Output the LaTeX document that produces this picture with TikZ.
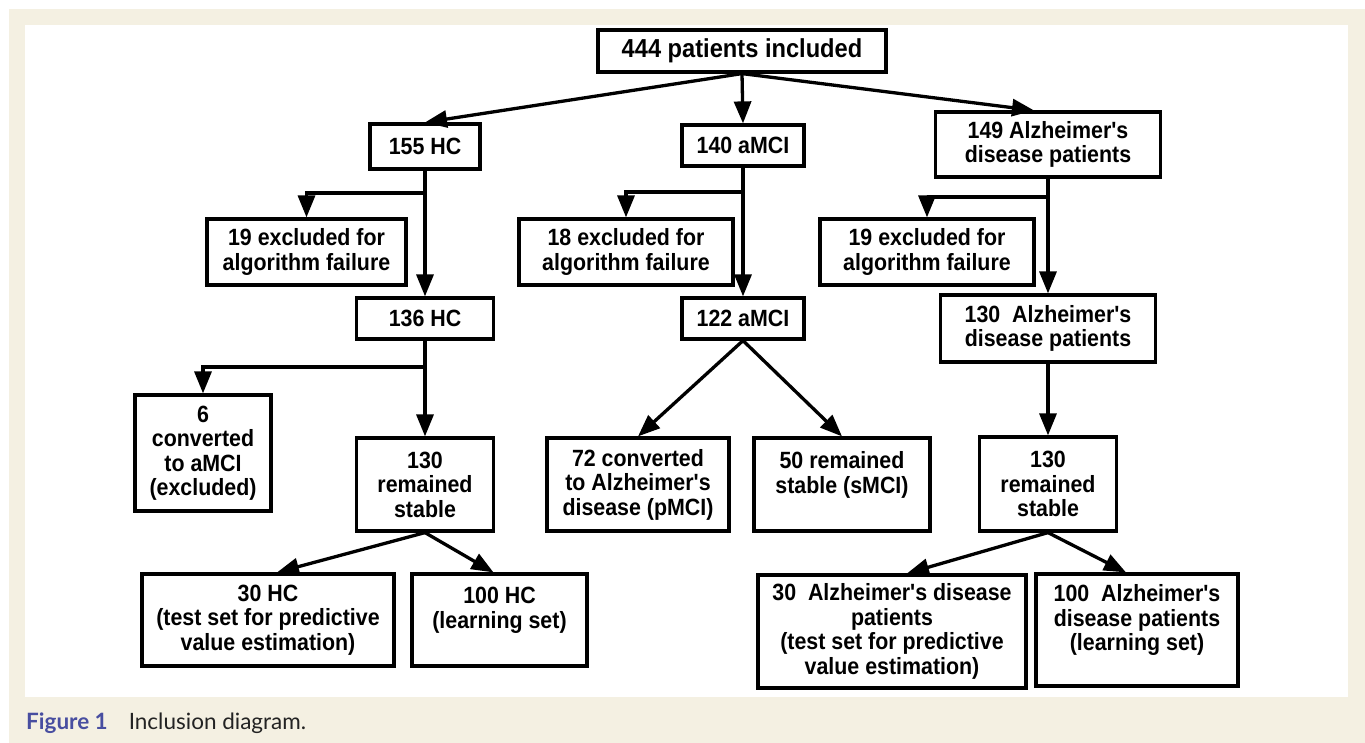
\documentclass[tikz,border=0pt]{standalone}
\usepackage{fontspec}
\newfontfamily\boxfont{Liberation Sans}[FakeStretch=0.91]
\newfontfamily\capfont{Lato}
\usetikzlibrary{arrows.meta}
\definecolor{bg}{RGB}{244,240,226}
\definecolor{capblue}{RGB}{72,78,160}
\definecolor{captext}{RGB}{35,35,35}
\begin{document}
\begin{tikzpicture}[x=1pt,y=-1pt,
  box/.style={draw, line width=3.2pt, fill=white, align=center, inner sep=0pt,
    font=\boxfont\bfseries\fontsize{23.5}{24.5}\selectfont},
  arr/.style={line width=3.3pt, -{Triangle[length=22pt,width=17pt]}}]
% background
\fill[white] (0,0) rectangle (1365,743);
\fill[bg] (9,9) rectangle (1365,743);
\fill[white] (25,25) rectangle (1348,697);
\useasboundingbox (0,0) rectangle (1365,743);
% nodes
\node[box, minimum width=288, minimum height=42,
  font=\boxfont\bfseries\fontsize{26}{28}\selectfont] (top) at (742,51) {444 patients included};
\node[box, minimum width=110, minimum height=45] (hc1) at (425,146.5) {155 HC};
\node[box, minimum width=122, minimum height=41] (mci1) at (743,145.5) {140 aMCI};
\node[box, minimum width=225, minimum height=65] (ad1) at (1048,144.5) {149 Alzheimer's\\disease patients};
\node[box, minimum width=199, minimum height=66] (hcx) at (306.5,252) {19 excluded for\\algorithm failure};
\node[box, minimum width=214, minimum height=66] (mcix) at (626,252) {18 excluded for\\algorithm failure};
\node[box, minimum width=214, minimum height=66] (adx) at (927,252) {19 excluded for\\algorithm failure};
\node[box, minimum width=137, minimum height=41] (hc2) at (425,318.5) {136 HC};
\node[box, minimum width=122, minimum height=41] (mci2) at (743,318.5) {122 aMCI};
\node[box, minimum width=215, minimum height=67] (ad2) at (1048,328.5) {130\ \ Alzheimer's\\disease patients};
\node[box, minimum width=136, minimum height=116] (hcconv) at (203,453) {6\\converted\\to aMCI\\(excluded)};
\node[box, minimum width=137, minimum height=93] (hc3) at (425,484.5) {130\\remained\\stable};
\node[box, minimum width=182, minimum height=93] (mciconv) at (638,484.5) {72 converted\\to Alzheimer's\\disease (pMCI)};
\node[box, minimum width=176, minimum height=93] (mcist) at (842,484.5) {50 remained\\stable (sMCI)\\\mbox{}};
\node[box, minimum width=137, minimum height=94] (ad3) at (1048,484) {130\\remained\\stable};
\node[box, minimum width=252, minimum height=92] (hc30) at (268,620) {30 HC\\(test set for predictive\\value estimation)};
\node[box, minimum width=175, minimum height=92] (hc100) at (499.5,620) {100 HC\\(learning set)\\\mbox{}};
\node[box, minimum width=268, minimum height=113] (ad30) at (892,631.5) {30\ \ Alzheimer's disease\\patients\\(test set for predictive\\value estimation)};
\node[box, minimum width=202, minimum height=112] (ad100) at (1137,630) {100\ \ Alzheimer's\\disease patients\\(learning set)\\\mbox{}};
% junctions
\coordinate (j1) at (hc1.south |- 0,193);
\coordinate (j2) at (mci1.south |- 0,192);
\coordinate (j3) at (ad1.south |- 0,197);
\coordinate (j4) at (hc2.south |- 0,367);
% connectors
\draw[arr] (top.south) -- (hc1.north);
\draw[arr] (top.south) -- (mci1.north);
\draw[arr] (top.south) -- ([xshift=-14pt]ad1.north);
\draw[arr] (hc1.south) -- (hc2.north);
\draw[arr] (j1) -| (hcx.north);
\draw[arr] (mci1.south) -- (mci2.north);
\draw[arr] (j2) -| (mcix.north);
\draw[arr] (ad1.south) -- (ad2.north);
\draw[arr] (j3) -| (adx.north);
\draw[arr] (hc2.south) -- (hc3.north);
\draw[arr] (j4) -| (hcconv.north);
\draw[arr] (mci2.south) -- (mciconv.north);
\draw[arr] (mci2.south) -- (mcist.north);
\draw[arr] (ad2.south) -- (ad3.north);
\draw[arr] (hc3.south) -- ([xshift=9pt]hc30.north);
\draw[arr] (hc3.south) -- ([xshift=-6pt]hc100.north);
\draw[arr] (ad3.south) -- ([xshift=15pt]ad30.north);
\draw[arr] (ad3.south) -- ([xshift=-11pt]ad100.north);
% caption
\node[anchor=base west, inner sep=0pt, font=\capfont\fontsize{22.5}{26}\selectfont] (cap) at (26,729)
  {\textcolor{capblue}{\bfseries Figure 1}\hspace{21pt}\textcolor{captext}{Inclusion diagram.}};
\end{tikzpicture}
\end{document}
